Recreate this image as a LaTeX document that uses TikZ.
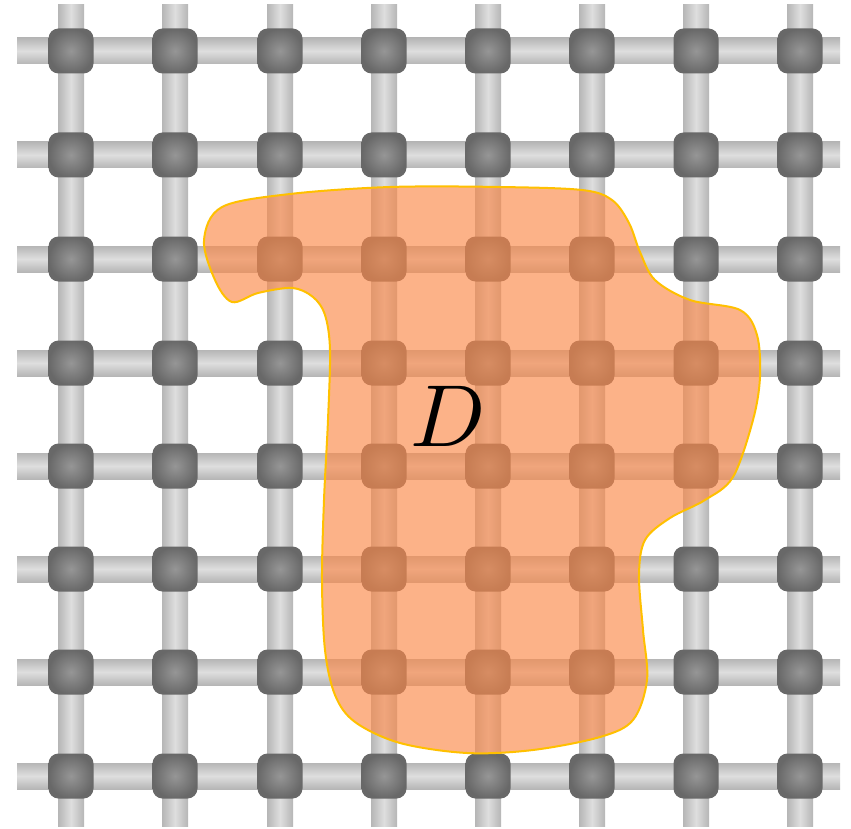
\documentclass[tikz,border=0pt]{standalone}
\definecolor{railA}{RGB}{182,182,182}
\definecolor{railC}{RGB}{222,222,222}
\definecolor{siteIn}{RGB}{150,150,150}
\definecolor{siteOut}{RGB}{104,104,104}
\definecolor{regFill}{RGB}{250,136,72}
\definecolor{regLine}{RGB}{255,192,0}
\begin{document}
\begin{tikzpicture}[x=1pt,y=-1pt,
  hrail/.style={top color=railA,bottom color=railA,middle color=railC},
  vrail/.style={left color=railA,right color=railA,middle color=railC},
  site/.style={rectangle,rounded corners=10pt,minimum size=45pt,inner sep=0pt,
    inner color=siteIn,outer color=siteOut},
  region/.style={fill=regFill,fill opacity=0.65,draw=regLine,line width=2pt}]
\useasboundingbox (0,0) rectangle (851,829);
\def\colx{{71,175,280,384,488,592,696,800}}
\def\rowy{{51,155,259,363,466,569,672,776}}
\foreach \k in {0,...,7}{
  \pgfmathsetmacro{\yy}{\rowy[\k]}
  \pgfmathsetmacro{\xx}{\colx[\k]}
  \shade[hrail] (17,\yy-13) rectangle (840,\yy+13);
  \shade[vrail] (\xx-13,5) rectangle (\xx+13,826);
}
\foreach \i in {0,...,7}{
  \foreach \j in {0,...,7}{
    \pgfmathsetmacro{\xx}{\colx[\i]}
    \pgfmathsetmacro{\yy}{\rowy[\j]}
    \node[site] (n-\i-\j) at (\xx,\yy) {};
  }
}
\draw[region] plot[smooth cycle,tension=0.55] coordinates {
 (204,240) (222,207) (290,194) (390,187) (500,187) (582,190) (612,200)
 (629,223) (640,252) (655,280) (690,300) (740,310) (757,335) (760,377) (753,420)
 (733,477) (705,500) (670,518) (645,540) (639,575) (643,630) (647,680)
 (633,720) (600,737) (533,750) (467,753) (400,743) (355,722) (335,695)
 (325,650) (322,580) (324,500) (328,420) (330,350) (325,315) (313,297)
 (292,288) (258,293) (232,302) (215,280)};
\node[scale=8.8] (D) at (448,416) {$D$};
\end{tikzpicture}
\end{document}
